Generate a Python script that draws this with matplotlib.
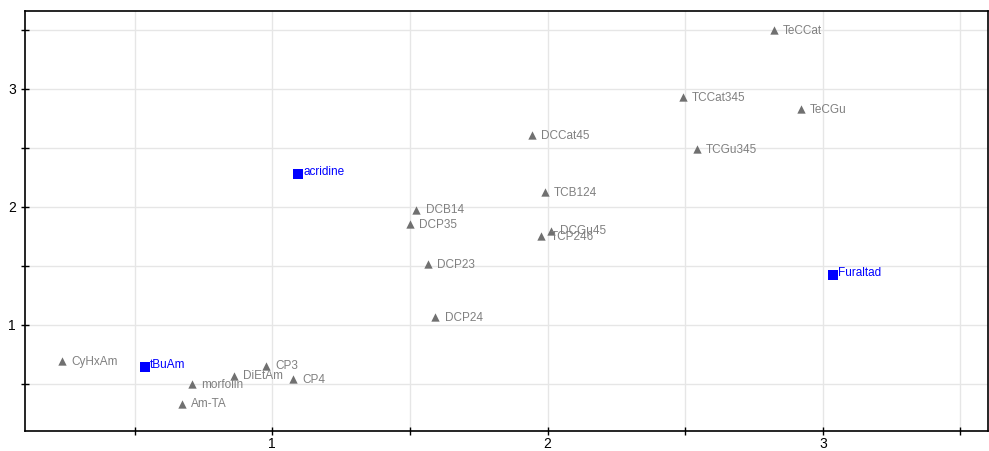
import matplotlib
matplotlib.use("Agg")
import matplotlib.pyplot as plt
from matplotlib.ticker import MultipleLocator

# grey triangles
tri_names = ["TeCCat", "TCCat345", "TeCGu", "DCCat45", "TCGu345", "TCB124",
             "DCB14", "DCP35", "DCGu45", "TCP246", "DCP23", "DCP24",
             "CyHxAm", "CP3", "DiEtAm", "CP4", "morfolin", "Am-TA"]
tri_x = [2.822, 2.491, 2.920, 1.942, 2.542, 1.989,
         1.524, 1.502, 2.011, 1.978, 1.564, 1.593,
         0.236, 0.978, 0.862, 1.076, 0.709, 0.673]
tri_y = [3.50, 2.93, 2.83, 2.61, 2.49, 2.127,
         1.975, 1.856, 1.797, 1.754, 1.517, 1.068,
         0.695, 0.653, 0.568, 0.542, 0.500, 0.331]

# blue squares
sq_names = ["tBuAm", "acridine", "Furaltad"]
sq_x = [0.538, 1.095, 3.036]
sq_y = [0.644, 2.280, 1.424]

plt.rcParams["font.family"] = ["Liberation Sans Narrow", "Liberation Sans", "DejaVu Sans"]

fig = plt.figure(figsize=(9.89, 4.51), dpi=100)
ax = fig.add_axes([0.0253, 0.0443, 0.9737, 0.9313])

ax.scatter(tri_x, tri_y, marker="^", s=36, color="#707070", zorder=3, linewidths=0)
for n, x, y in zip(tri_names, tri_x, tri_y):
    ax.annotate(n, (x, y), xytext=(6.5, -0.5), textcoords="offset points",
                fontsize=8.5, color="#808080", va="center", ha="left")

ax.scatter(sq_x, sq_y, marker="s", s=52, color="#0000ff", zorder=3, linewidths=0)
for n, x, y in zip(sq_names, sq_x, sq_y):
    ax.annotate(n, (x, y), xytext=(3.5, 1), textcoords="offset points",
                fontsize=8.5, color="#0000ff", va="center", ha="left")

ax.set_xlim(0.102, 3.60)
ax.set_ylim(0.10, 3.66)
ax.xaxis.set_major_locator(MultipleLocator(1))
ax.xaxis.set_minor_locator(MultipleLocator(0.5))
ax.yaxis.set_major_locator(MultipleLocator(1))
ax.yaxis.set_minor_locator(MultipleLocator(0.5))
ax.grid(True, which="both", color="#e6e6e6", linewidth=1)
ax.set_axisbelow(True)
ax.tick_params(which="both", direction="inout", length=6, width=1, labelsize=10)
ax.tick_params(axis="x", pad=1)
for s in ax.spines.values():
    s.set_linewidth(1.2)

fig.savefig("out.png", dpi=100)
